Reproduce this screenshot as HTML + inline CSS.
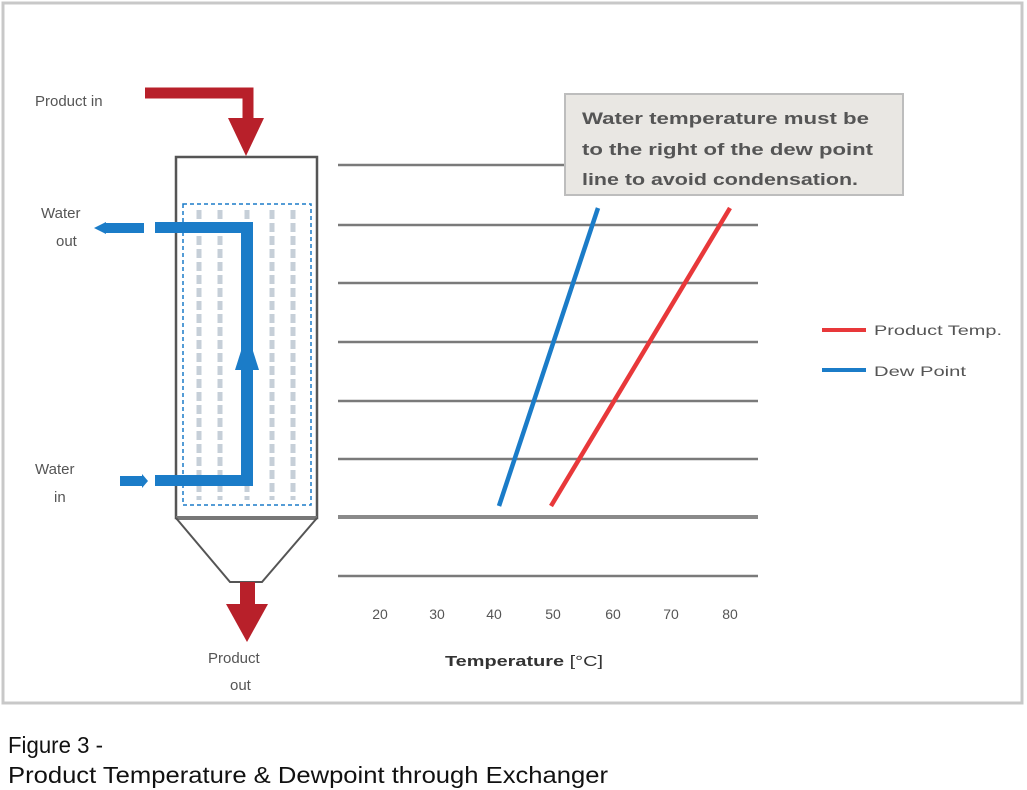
<!DOCTYPE html>
<html><head><meta charset="utf-8"><style>
html,body{margin:0;padding:0;background:#fff;width:1027px;height:790px;overflow:hidden}
svg{display:block}
</style></head><body>
<svg width="1027" height="790" xmlns="http://www.w3.org/2000/svg" font-family="Liberation Sans, sans-serif">
<rect x="3" y="3" width="1019" height="700" fill="#fff" stroke="#c8c8c8" stroke-width="3"/>
<g stroke="#7a7a7a" stroke-width="2.5">
<line x1="338" y1="165" x2="758" y2="165"/>
<line x1="338" y1="225" x2="758" y2="225"/>
<line x1="338" y1="283" x2="758" y2="283"/>
<line x1="338" y1="342" x2="758" y2="342"/>
<line x1="338" y1="401" x2="758" y2="401"/>
<line x1="338" y1="459" x2="758" y2="459"/>
<line x1="338" y1="576" x2="758" y2="576"/>
</g>
<line x1="338" y1="517" x2="758" y2="517" stroke="#8a8a8a" stroke-width="4"/>
<line x1="499" y1="506" x2="598" y2="208" stroke="#1b7cc8" stroke-width="4.5"/>
<line x1="551" y1="506" x2="730" y2="208" stroke="#e8383a" stroke-width="4.5"/>
<rect x="565" y="94" width="338" height="101" fill="#e9e7e3" stroke="#bdbdbd" stroke-width="2"/>
<g font-size="17" fill="#555" font-weight="bold">
<text x="582" y="124" textLength="287" lengthAdjust="spacingAndGlyphs">Water temperature must be</text>
<text x="582" y="155" textLength="291" lengthAdjust="spacingAndGlyphs">to the right of the dew point</text>
<text x="582" y="185" textLength="276" lengthAdjust="spacingAndGlyphs">line to avoid condensation.</text>
</g>
<line x1="822" y1="330" x2="866" y2="330" stroke="#e8383a" stroke-width="4"/>
<line x1="822" y1="370" x2="866" y2="370" stroke="#1b7cc8" stroke-width="4"/>
<g font-size="14" fill="#555">
<text x="874" y="335" textLength="128" lengthAdjust="spacingAndGlyphs">Product Temp.</text>
<text x="874" y="376" textLength="92" lengthAdjust="spacingAndGlyphs">Dew Point</text>
</g>
<g font-size="14" fill="#555" text-anchor="middle">
<text x="380" y="619">20</text><text x="437" y="619">30</text><text x="494" y="619">40</text>
<text x="553" y="619">50</text><text x="613" y="619">60</text><text x="671" y="619">70</text><text x="730" y="619">80</text>
</g>
<text x="445" y="666" font-size="15" fill="#333" font-weight="bold" textLength="158" lengthAdjust="spacingAndGlyphs">Temperature <tspan font-weight="normal">[°C]</tspan></text>
<rect x="183" y="204" width="128" height="301" fill="none" stroke="#1b7cc8" stroke-width="1.5" stroke-dasharray="4,3"/>
<g stroke="#c6cfd8" stroke-width="5" stroke-dasharray="9,4">
<line x1="199" y1="210" x2="199" y2="500"/><line x1="220" y1="210" x2="220" y2="500"/>
<line x1="247" y1="210" x2="247" y2="500"/><line x1="272" y1="210" x2="272" y2="500"/>
<line x1="293" y1="210" x2="293" y2="500"/>
</g>
<path d="M176 518 V157 H317 V518 Z" fill="none" stroke="#555" stroke-width="2.5"/>
<line x1="176" y1="518" x2="317" y2="518" stroke="#777" stroke-width="4"/>
<path d="M176 518 L230 582 H262 L317 518" fill="none" stroke="#555" stroke-width="2"/>
<path d="M145 93 H248 V120" fill="none" stroke="#b8202a" stroke-width="11"/>
<polygon points="228,118 264,118 246,156" fill="#b8202a"/>
<rect x="240" y="582" width="15" height="26" fill="#b8202a"/>
<polygon points="226,604 268,604 247,642" fill="#b8202a"/>
<g fill="#1b7cc8">
<rect x="155" y="222" width="98" height="11"/>
<rect x="241" y="222" width="12" height="264"/>
<rect x="155" y="475" width="98" height="11"/>
<polygon points="235,370 247,332 259,370"/>
<rect x="104" y="223" width="40" height="10"/>
<polygon points="94,228 106,222 106,234"/>
<rect x="120" y="476" width="22" height="10"/>
<polygon points="142,474 148,481 142,488"/>
</g>
<g font-size="15" fill="#555">
<text x="35" y="106">Product in</text>
<text x="41" y="218">Water</text><text x="56" y="246">out</text>
<text x="35" y="474">Water</text><text x="54" y="502">in</text>
<text x="208" y="663">Product</text><text x="230" y="690">out</text>
</g>
<g font-size="23" fill="#111">
<text x="8" y="753" textLength="95" lengthAdjust="spacingAndGlyphs">Figure 3 -</text>
<text x="8" y="783" textLength="600" lengthAdjust="spacingAndGlyphs">Product Temperature &amp; Dewpoint through Exchanger</text>
</g>
</svg>
</body></html>
